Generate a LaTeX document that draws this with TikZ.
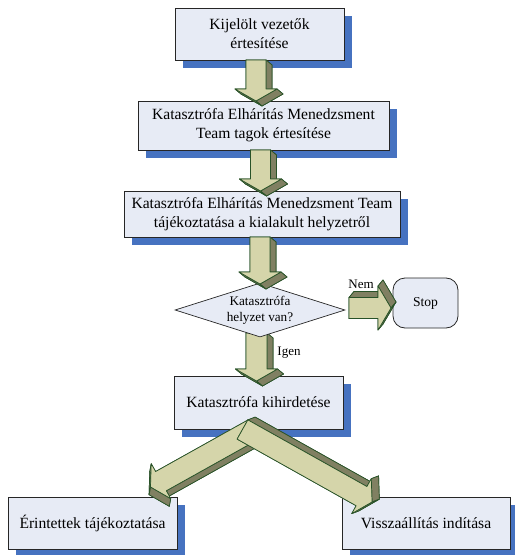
\documentclass[tikz,border=0pt]{standalone}
\usepackage{fontspec}
\setmainfont{Liberation Serif}
\usetikzlibrary{calc,shapes.geometric,shadows}

\definecolor{boxfill}{RGB}{231,235,245}
\definecolor{shadowblue}{RGB}{70,114,192}
\definecolor{arrowlight}{RGB}{213,213,170}
\definecolor{arrowdark}{RGB}{128,128,98}
\definecolor{arrowline}{RGB}{40,82,40}

\tikzset{
  stepbox/.style={draw=black!85, line width=0.8bp, fill=boxfill, inner sep=0pt,
    align=center, font=\fontsize{15.6bp}{18.8bp}\selectfont,
    drop shadow={shadow xshift=8bp, shadow yshift=-8bp, fill=shadowblue, opacity=1}},
  decision/.style={diamond, draw=black!85, line width=0.7bp, fill=boxfill, inner sep=0pt,
    aspect=3.15, align=center, font=\fontsize{13.2bp}{16bp}\selectfont},
  endbox/.style={draw=black!85, line width=0.8bp, fill=boxfill, rounded corners=12bp,
    inner sep=0pt, font=\fontsize{13.6bp}{16bp}\selectfont},
  lbl/.style={inner sep=0pt, font=\fontsize{13bp}{15bp}\selectfont},
  frontface/.style={fill=arrowlight, draw=arrowline, line width=0.7bp, line join=round},
  sideface/.style={fill=arrowdark, draw=arrowline, line width=0.7bp, line join=round},
}

% Extruded block arrow: #1 start, #2 tip, #3 shaft half-width,
% #4 head half-width, #5 head length
\newcommand\blockarrow[5]{%
  \coordinate (ba-a) at #1;
  \coordinate (ba-b) at #2;
  \coordinate (ba-h) at ($(ba-b)!#5!(ba-a)$);
  \coordinate (p1) at ($(ba-a)!#3!90:(ba-b)$);
  \coordinate (p2) at ($(ba-h)!#3!90:(ba-b)$);
  \coordinate (p3) at ($(ba-h)!#4!90:(ba-b)$);
  \coordinate (p4) at (ba-b);
  \coordinate (p5) at ($(ba-h)!#4!-90:(ba-b)$);
  \coordinate (p6) at ($(ba-h)!#3!-90:(ba-b)$);
  \coordinate (p7) at ($(ba-a)!#3!-90:(ba-b)$);
  \coordinate (du) at ($(ba-a)!5bp!(ba-b)$);
  \coordinate (dv) at ($(ba-a)!6bp!90:(ba-b)$);
  \foreach \i in {1,...,7}
    \coordinate (q\i) at ($(p\i)+(du)-(ba-a)+(dv)-(ba-a)$);
  \filldraw[sideface] (q1)--(q2)--(q3)--(q4)--(q5)--(q6)--(q7)--cycle;
  \foreach \i/\j in {7/1,1/2,2/3,3/4,4/5,5/6,6/7}
    \filldraw[sideface] (p\i)--(p\j)--(q\j)--(q\i)--cycle;
  \filldraw[frontface] (p1)--(p2)--(p3)--(p4)--(p5)--(p6)--(p7)--cycle;
}

\begin{document}
\begin{tikzpicture}[x=1bp, y=-1bp]
\useasboundingbox (0,0) rectangle (515,555);

% process steps
\node[stepbox, minimum width=169bp, minimum height=52bp] (s1) at (259.5,34)
  {Kijelölt vezetők\\értesítése};
\node[stepbox, minimum width=251bp, minimum height=49bp] (s2) at (263.5,125.5)
  {Katasztrófa Elhárítás Menedzsment\\Team tagok értesítése};
\node[stepbox, minimum width=276bp, minimum height=46bp] (s3) at (262,214)
  {Katasztrófa Elhárítás Menedzsment Team\\tájékoztatása a kialakult helyzetről};
\node[stepbox, minimum width=169bp, minimum height=53bp] (s4) at (258.5,402.5)
  {Katasztrófa kihirdetése};
\node[stepbox, minimum width=169bp, minimum height=52bp] (s5) at (92.5,523)
  {Érintettek tájékoztatása};
\node[stepbox, minimum width=168bp, minimum height=52bp] (s6) at (426,523)
  {Visszaállítás indítása};
\node[endbox, minimum width=65bp, minimum height=50bp] (stop) at (425.5,303) {Stop};

% arrow leaving the decision, drawn beneath it
\blockarrow{(256.5,333)}{(256.5,381)}{10.5bp}{21bp}{12bp}

\node[decision, minimum width=170bp, minimum height=54bp] (q) at (260,310)
  {Katasztrófa\\helyzet van?};

% arrows between the steps
\blockarrow{(256,60)}{(256,101)}{10bp}{21bp}{12bp}
\blockarrow{(260.5,150)}{(260.5,191)}{10bp}{21bp}{12bp}
\blockarrow{(260,237)}{(260,284)}{10bp}{21bp}{12bp}
\blockarrow{(349,308)}{(391,308)}{10.5bp}{22bp}{13bp}
\blockarrow{(253.5,429.5)}{(150.5,487)}{11bp}{20bp}{12bp}
\blockarrow{(242.5,429.5)}{(372,502)}{11bp}{20bp}{12bp}

% branch labels
\node[lbl] (nem) at (361,284) {Nem};
\node[lbl] (igen) at (289,353) {Igen};
\end{tikzpicture}
\end{document}
